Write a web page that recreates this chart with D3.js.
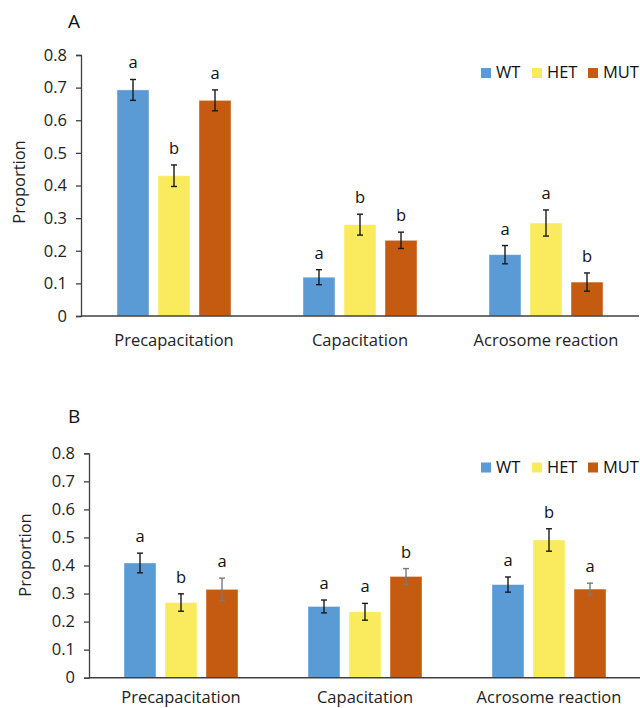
<!DOCTYPE html>
<html>
<head>
<meta charset="utf-8">
<script src="https://cdn.jsdelivr.net/npm/d3@7"></script>
<style>
  html, body { margin: 0; padding: 0; background: #fff; }
  svg { display: block; font-family: "Open Sans", "Noto Sans", sans-serif; }
</style>
</head>
<body>
<svg id="chart" width="640" height="708"></svg>
<script>
// ---------- data ----------
const categories = ["Precapacitation", "Capacitation", "Acrosome reaction"];
const genotypes = ["WT", "HET", "MUT"];
const yTickValues = [0, 0.1, 0.2, 0.3, 0.4, 0.5, 0.6, 0.7, 0.8];

// Panel A
const meanA_WT  = [0.693, 0.119, 0.188];
const meanA_HET = [0.430, 0.280, 0.285];
const meanA_MUT = [0.661, 0.232, 0.104];
const errA_WT   = [0.032, 0.023, 0.028];
const errA_HET  = [0.033, 0.032, 0.040];
const errA_MUT  = [0.032, 0.025, 0.028];
const letA_WT   = ["a", "a", "a"];
const letA_HET  = ["b", "b", "a"];
const letA_MUT  = ["a", "b", "b"];

// Panel B
const meanB_WT  = [0.409, 0.254, 0.332];
const meanB_HET = [0.268, 0.235, 0.491];
const meanB_MUT = [0.315, 0.361, 0.316];
const errB_WT   = [0.035, 0.023, 0.027];
const errB_HET  = [0.031, 0.030, 0.040];
const errB_MUT  = [0.040, 0.028, 0.021];
const letB_WT   = ["a", "a", "a"];
const letB_HET  = ["b", "a", "b"];
const letB_MUT  = ["a", "b", "a"];

// ---------- styles ----------
const colors = { WT: "#5B9BD5", HET: "#FAEB5E", MUT: "#C55A11" };
const errColorsA = { WT: "#1a1a1a", HET: "#1a1a1a", MUT: "#1a1a1a" };
const errColorsB = { WT: "#1a1a1a", HET: "#1a1a1a", MUT: "#7a7a7a" };

const svg = d3.select("#chart");

function buildRows(means, errs, lets) {
  return categories.map((c, i) => ({
    category: c,
    values: genotypes.map(g => ({ g, v: means[g][i], e: errs[g][i], l: lets[g][i] }))
  }));
}

function drawPanel(opt) {
  const g = svg.append("g");
  const x0 = d3.scaleBand().domain(categories).range([opt.left, opt.right]).padding(0);
  const x1 = d3.scaleBand().domain(genotypes).range([-57, 57]).paddingInner(0.22).paddingOuter(0);
  const y = d3.scaleLinear().domain([0, 0.8]).range([opt.bottom, opt.top]);

  // title
  g.append("text").attr("x", opt.titleX).attr("y", opt.titleY)
    .attr("font-size", 19).attr("fill", "#111").text(opt.title);

  // y axis
  const yAxis = d3.axisLeft(y).tickValues(yTickValues).tickSize(5).tickPadding(9)
    .tickFormat(d => d === 0 ? "0" : d3.format(".1f")(d));
  const ya = g.append("g").attr("transform", `translate(${opt.left},0)`).call(yAxis);
  ya.select(".domain").attr("stroke", "#404040").attr("stroke-width", 1.3);
  ya.selectAll(".tick line").attr("stroke", "#404040").attr("stroke-width", 1.3);
  ya.selectAll(".tick text").attr("font-size", 16.5).attr("fill", "#222")
    .attr("font-family", "'Open Sans', sans-serif");

  // y label
  g.append("text")
    .attr("transform", `translate(${opt.yLabelX},${opt.yLabelY}) rotate(-90)`)
    .attr("text-anchor", "middle").attr("font-size", 16.5).attr("fill", "#222")
    .text("Proportion");

  const rows = buildRows(opt.means, opt.errs, opt.lets);
  const grp = g.selectAll(".grp").data(rows).join("g")
    .attr("transform", d => `translate(${x0(d.category) + x0.bandwidth() / 2},0)`);

  // bars
  grp.selectAll("rect").data(d => d.values).join("rect")
    .attr("x", d => x1(d.g))
    .attr("width", x1.bandwidth())
    .attr("y", d => y(d.v))
    .attr("height", d => y(0) - y(d.v))
    .attr("fill", d => colors[d.g])
    .attr("stroke", "#ffffff").attr("stroke-opacity", 0.5).attr("stroke-width", 0.8);

  // error bars
  const eb = grp.selectAll(".eb").data(d => d.values).join("g").attr("class", "eb")
    .attr("stroke", d => opt.errColors[d.g]).attr("stroke-width", 1.4);
  eb.append("line")
    .attr("x1", d => x1(d.g) + x1.bandwidth() / 2).attr("x2", d => x1(d.g) + x1.bandwidth() / 2)
    .attr("y1", d => y(d.v + d.e)).attr("y2", d => y(d.v - d.e));
  eb.append("line")
    .attr("x1", d => x1(d.g) + x1.bandwidth() / 2 - 3).attr("x2", d => x1(d.g) + x1.bandwidth() / 2 + 3)
    .attr("y1", d => y(d.v + d.e)).attr("y2", d => y(d.v + d.e));
  eb.append("line")
    .attr("x1", d => x1(d.g) + x1.bandwidth() / 2 - 3).attr("x2", d => x1(d.g) + x1.bandwidth() / 2 + 3)
    .attr("y1", d => y(d.v - d.e)).attr("y2", d => y(d.v - d.e));

  // letters
  grp.selectAll(".let").data(d => d.values).join("text").attr("class", "let")
    .attr("x", d => x1(d.g) + x1.bandwidth() / 2)
    .attr("y", d => y(d.v + d.e) - 11)
    .attr("text-anchor", "middle").attr("font-size", 16.5).attr("fill", "#111")
    .text(d => d.l);

  // x axis baseline
  g.append("line").attr("x1", opt.left).attr("x2", opt.right)
    .attr("y1", y(0)).attr("y2", y(0)).attr("stroke", "#404040").attr("stroke-width", 1.5);

  // category labels
  g.selectAll(".cat").data(categories).join("text").attr("class", "cat")
    .attr("x", d => x0(d) + x0.bandwidth() / 2)
    .attr("y", opt.catY)
    .attr("text-anchor", "middle").attr("font-size", 16.5).attr("fill", "#222")
    .text(d => d);

  // legend
  const lg = g.append("g");
  const legX = [481, 532, 588];
  genotypes.forEach((gn, i) => {
    lg.append("rect").attr("x", legX[i]).attr("y", opt.legY - 10)
      .attr("width", 10).attr("height", 10).attr("fill", colors[gn]);
    lg.append("text").attr("x", legX[i] + 15).attr("y", opt.legY)
      .attr("font-size", 16.5).attr("fill", "#111").text(gn);
  });
}

drawPanel({
  title: "A", titleX: 68, titleY: 28,
  left: 81, right: 639, top: 55, bottom: 316,
  yLabelX: 25, yLabelY: 182, catY: 346, legY: 78,
  means: { WT: meanA_WT, HET: meanA_HET, MUT: meanA_MUT },
  errs: { WT: errA_WT, HET: errA_HET, MUT: errA_MUT },
  lets: { WT: letA_WT, HET: letA_HET, MUT: letA_MUT },
  errColors: errColorsA
});

drawPanel({
  title: "B", titleX: 68, titleY: 423,
  left: 89, right: 641, top: 453.3, bottom: 677.7,
  yLabelX: 31, yLabelY: 555, catY: 703, legY: 472.5,
  means: { WT: meanB_WT, HET: meanB_HET, MUT: meanB_MUT },
  errs: { WT: errB_WT, HET: errB_HET, MUT: errB_MUT },
  lets: { WT: letB_WT, HET: letB_HET, MUT: letB_MUT },
  errColors: errColorsB
});
</script>
</body>
</html>
